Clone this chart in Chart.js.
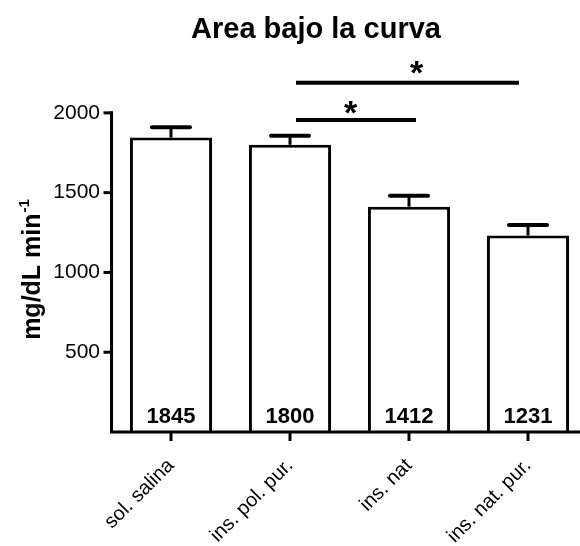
<!DOCTYPE html>
<html><head><meta charset="utf-8">
<script src="https://cdn.jsdelivr.net/npm/chart.js@4.4.0/dist/chart.umd.min.js"></script>
<style>
html,body{margin:0;padding:0;overflow:hidden;background:#fff;width:580px;height:546px}
#wrap{position:absolute;left:0;top:0;width:600px;height:546px}
</style>
</head><body><div id="wrap"><canvas id="c" width="600" height="546"></canvas></div>
<script>
const categories = ['sol. salina', 'ins. pol. pur.', 'ins. nat', 'ins. nat. pur.'];
const means = [1845, 1800, 1412, 1231];
const errors = [65, 56, 68, 67];
const yTicks = [500, 1000, 1500, 2000];
const titleText = 'Area bajo la curva';
const yTitle = 'mg/dL min';
const yTitleSup = '-1';
// significance comparisons (category indices) and star text
const sigPairs = [[1, 2], [1, 3]];
const sigText = ['*', '*'];

const FONT = '"Liberation Sans", Arial, sans-serif';

const deco = {
  id: 'deco',
  afterDatasetsDraw(chart) {
    const ctx = chart.ctx, x = chart.scales.x, y = chart.scales.y, ca = chart.chartArea;
    const meta = chart.getDatasetMeta(0);
    ctx.save();
    ctx.strokeStyle = '#000'; ctx.fillStyle = '#000';
    // error bars + value labels
    meta.data.forEach((bar, i) => {
      const cx = bar.x;
      const yt = y.getPixelForValue(means[i]);
      const ye = y.getPixelForValue(means[i] + errors[i]);
      ctx.lineWidth = 3; ctx.lineCap = 'butt';
      ctx.beginPath(); ctx.moveTo(cx, yt); ctx.lineTo(cx, ye); ctx.stroke();
      ctx.lineWidth = 4; ctx.lineCap = 'round';
      ctx.beginPath(); ctx.moveTo(cx - 19, ye); ctx.lineTo(cx + 19, ye); ctx.stroke();
      ctx.font = 'bold 22px ' + FONT;
      ctx.textAlign = 'center'; ctx.textBaseline = 'alphabetic';
      ctx.fillText(String(means[i]), cx, y.getPixelForValue(0) - 9.5);
    });
    // axes
    ctx.lineWidth = 3; ctx.lineCap = 'square';
    const y0 = y.getPixelForValue(0), yTop = y.getPixelForValue(yTicks[yTicks.length - 1]);
    ctx.beginPath();
    ctx.moveTo(ca.left, yTop); ctx.lineTo(ca.left, y0); ctx.lineTo(chart.width, y0);
    ctx.stroke();
    ctx.lineCap = 'butt';
    yTicks.forEach(v => {
      const py = y.getPixelForValue(v);
      ctx.beginPath(); ctx.moveTo(ca.left - 8, py); ctx.lineTo(ca.left, py); ctx.stroke();
    });
    categories.forEach((c, i) => {
      const px = x.getPixelForValue(i);
      ctx.beginPath(); ctx.moveTo(px, y0); ctx.lineTo(px, y0 + 9); ctx.stroke();
    });
    // significance lines
    const levels = [1956, 2188];
    const endOff = [7, -9];
    const starFrac = [0.456, 0.541];
    sigPairs.forEach((p, k) => {
      const x1 = x.getPixelForValue(p[0]) + 6;
      const x2 = x.getPixelForValue(p[1]) + endOff[k];
      const py = y.getPixelForValue(levels[k]);
      ctx.lineWidth = 4; ctx.lineCap = 'butt';
      ctx.beginPath(); ctx.moveTo(x1, py); ctx.lineTo(x2, py); ctx.stroke();
      ctx.font = 'bold 34px ' + FONT;
      ctx.textAlign = 'center'; ctx.textBaseline = 'alphabetic';
      const m = ctx.measureText(sigText[k]);
      const gh = m.actualBoundingBoxAscent - m.actualBoundingBoxDescent;
      const cy = py - (k === 0 ? 12.4 : 15.6);
      ctx.fillText(sigText[k], x1 + starFrac[k] * (x2 - x1), cy + (m.actualBoundingBoxAscent + m.actualBoundingBoxDescent) / 2 - m.actualBoundingBoxDescent + 0 * gh);
    });
    // title
    ctx.font = 'bold 29px ' + FONT;
    ctx.textAlign = 'center'; ctx.textBaseline = 'alphabetic';
    ctx.fillText(titleText, 316, 37.5);
    // y title
    ctx.translate(40, 270);
    ctx.rotate(-Math.PI / 2);
    ctx.font = 'bold 25px ' + FONT;
    const w1 = ctx.measureText(yTitle).width;
    ctx.font = 'bold 15px ' + FONT;
    const w2 = ctx.measureText(yTitleSup).width;
    const start = -(w1 + w2) / 2;
    ctx.textAlign = 'left'; ctx.textBaseline = 'alphabetic';
    ctx.font = 'bold 25px ' + FONT;
    ctx.fillText(yTitle, start, 0);
    ctx.font = 'bold 15px ' + FONT;
    ctx.fillText(yTitleSup, start + w1 + 1, -11);
    ctx.restore();
  }
};

new Chart(document.getElementById('c'), {
  type: 'bar',
  data: {
    labels: categories,
    datasets: [{
      data: means,
      backgroundColor: '#fff',
      borderColor: '#000',
      borderWidth: 3,
      borderSkipped: 'start',
      categoryPercentage: 1,
      barPercentage: 0.69
    }]
  },
  options: {
    responsive: false, animation: false, devicePixelRatio: 1,
    layout: { padding: { left: 0, right: 12.5, top: 65, bottom: 0 } },
    plugins: { legend: { display: false }, tooltip: { enabled: false }, title: { display: false } },
    scales: {
      x: {
        grid: { display: false, drawTicks: false }, border: { display: false },
        ticks: { color: '#000', font: { family: FONT, size: 20 }, maxRotation: 45, minRotation: 45, padding: 22, autoSkip: false },
        afterFit(s) { s.height = 114; }
      },
      y: {
        min: 0, max: 2300,
        grid: { display: false, drawTicks: false }, border: { display: false },
        afterBuildTicks(s) { s.ticks = yTicks.map(v => ({ value: v })); },
        ticks: { color: '#000', font: { family: FONT, size: 21 }, padding: 11.5, callback: v => String(v) },
        afterFit(s) { s.width = 111.5; }
      }
    }
  },
  plugins: [deco]
});
</script>
</body></html>
